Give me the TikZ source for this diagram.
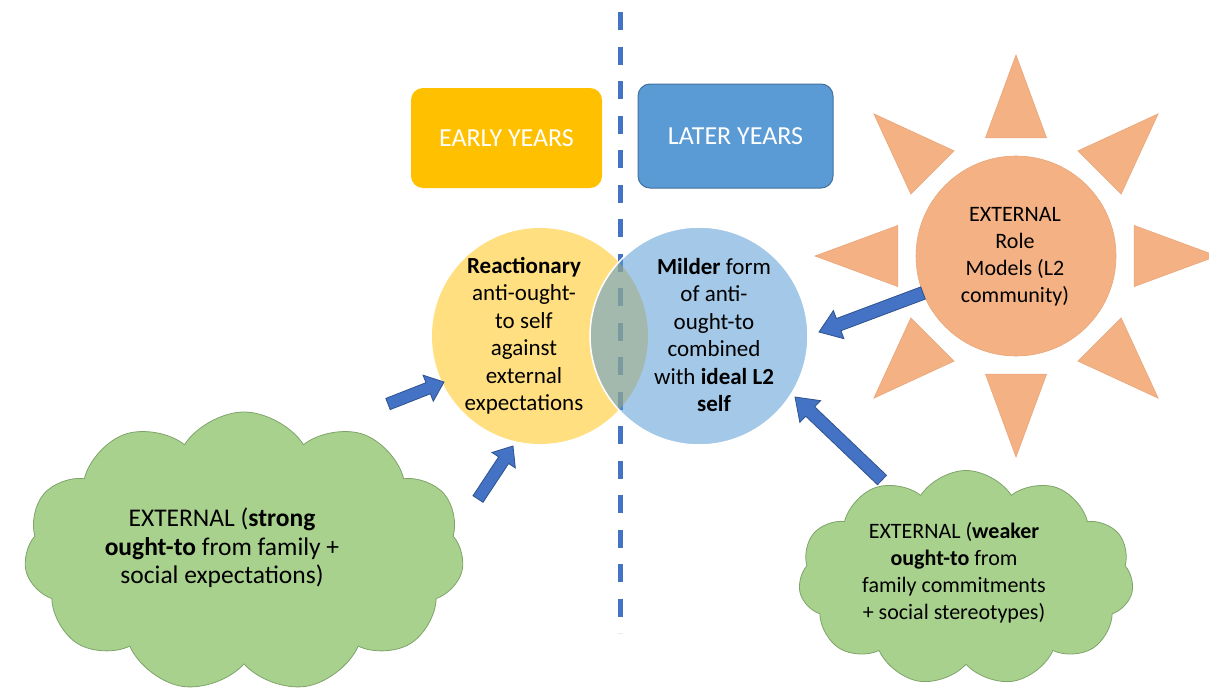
\documentclass[tikz,border=0pt]{standalone}
\usepackage{fontspec}
\setmainfont{Carlito}
\usetikzlibrary{shapes.symbols,calc}
\definecolor{earlyc}{HTML}{FFC000}
\definecolor{laterc}{HTML}{5B9BD5}
\definecolor{laterb}{HTML}{41719C}
\definecolor{dashc}{HTML}{4472C4}
\definecolor{arrowc}{HTML}{4472C4}
\definecolor{arrowb}{HTML}{2F528F}
\definecolor{sunc}{HTML}{F4B183}
\definecolor{sunb}{HTML}{E9A678}
\definecolor{cloudc}{HTML}{A9D18E}
\definecolor{cloudb}{HTML}{7EA46A}
\newcommand{\blockarr}[5]{%
  \coordinate (nk) at ($(#2)!#5!(#1)$);
  \draw[barrow] ($(#1)!#3!90:(#2)$) -- ($(nk)!#3!90:(#2)$) -- ($(nk)!#4!90:(#2)$) -- (#2)
    -- ($(nk)!#4!-90:(#2)$) -- ($(nk)!#3!-90:(#2)$) -- ($(#1)!#3!-90:(#2)$) -- cycle;}
\begin{document}
\begin{tikzpicture}[x=1pt,y=-1pt,
  yearbox/.style={rounded corners=12pt, text=white, inner sep=0pt,
    font=\fontsize{26}{30}\selectfont},
  venn/.style={circle, inner sep=0pt},
  ctext/.style={align=center, inner sep=0pt, text=black},
  barrow/.style={fill=arrowc, draw=arrowb, line width=0.8pt, line join=miter},
  cloudshape/.style={cloud, cloud puffs=11, cloud puff arc=115, cloud ignores aspect,
    fill=cloudc, draw=cloudb, line width=0.8pt, inner sep=0pt},
  ray/.style={fill=sunc, draw=sunb, line width=0.6pt}
]
\useasboundingbox (0,0) rectangle (1209,696);
\fill[white] (0,0) rectangle (1209,696);

% dashed separator
\coordinate (dtop) at (620,12);
\coordinate (dbot) at (620,633);
\draw[dashc, line width=5pt, dash pattern=on 18pt off 16.5pt] (dtop) -- (dbot);

% year boxes
\node[yearbox, fill=earlyc, minimum width=191pt, minimum height=100pt] (early) at (506.5,138) {EARLY YEARS};
\node[yearbox, fill=laterc, draw=laterb, line width=1pt, minimum width=195pt, minimum height=104pt] (later) at (735.5,136) {LATER YEARS};

% venn circles
\node[venn, fill=earlyc, fill opacity=0.5, minimum size=216pt] (ycirc) at (540,336) {};
\node[venn, fill=laterc, fill opacity=0.55, draw=white, line width=1.5pt, minimum size=218pt] (bcirc) at (699,336) {};
\node[ctext, font=\fontsize{23}{27.5}\selectfont] (ytext) at (524,336)
  {\textbf{Reactionary}\\anti-ought-\\to self\\against\\external\\expectations};
\node[ctext, font=\fontsize{23}{27.5}\selectfont] (btext) at (714,335)
  {\textbf{Milder} form\\of anti-\\ought-to\\combined\\with \textbf{ideal L2}\\\textbf{self}};

% sun
\coordinate (sunc) at (1016,256);
\foreach \a in {0,45,...,315}{
  \fill[ray] ($(sunc)+(\a:201)$) -- ($(sunc)+({\a+14.5}:122)$) -- ($(sunc)+({\a-14.5}:122)$) -- cycle;
}
\node[circle, fill=sunc, draw=sunb, line width=0.6pt, minimum size=200pt, inner sep=0pt] (sun) at (sunc) {};
\node[ctext, font=\fontsize{22}{27}\selectfont] (suntext) at (1015,257)
  {EXTERNAL\\Role\\Models (L2\\community)};

% clouds
\node[cloudshape, minimum width=440pt, minimum height=280pt] (cloudL) at (244,552) {};
\node[ctext, font=\fontsize{25.5}{28.5}\selectfont] (cloudLtext) at (222,548)
  {EXTERNAL (\textbf{strong}\\\textbf{ought-to} from family +\\social expectations)};
\node[cloudshape, minimum width=335pt, minimum height=215pt] (cloudR) at (966,578) {};
\node[ctext, font=\fontsize{22}{27}\selectfont] (cloudRtext) at (954,573)
  {EXTERNAL (\textbf{weaker}\\\textbf{ought-to} from\\family commitments\\+ social stereotypes)};

% block arrows
\coordinate (a1s) at (388,404);
\coordinate (a1e) at (444,382);
\coordinate (a2s) at (478,499);
\coordinate (a2e) at (513,446);
\coordinate (a3s) at (923,293);
\coordinate (a3e) at (819,332);
\coordinate (a4s) at (882,480);
\coordinate (a4e) at (795,397);
\blockarr{a1s}{a1e}{6pt}{14pt}{17pt}
\blockarr{a2s}{a2e}{6pt}{14pt}{17pt}
\blockarr{a3s}{a3e}{6.5pt}{15pt}{21pt}
\blockarr{a4s}{a4e}{6.5pt}{15pt}{21pt}
\end{tikzpicture}
\end{document}
